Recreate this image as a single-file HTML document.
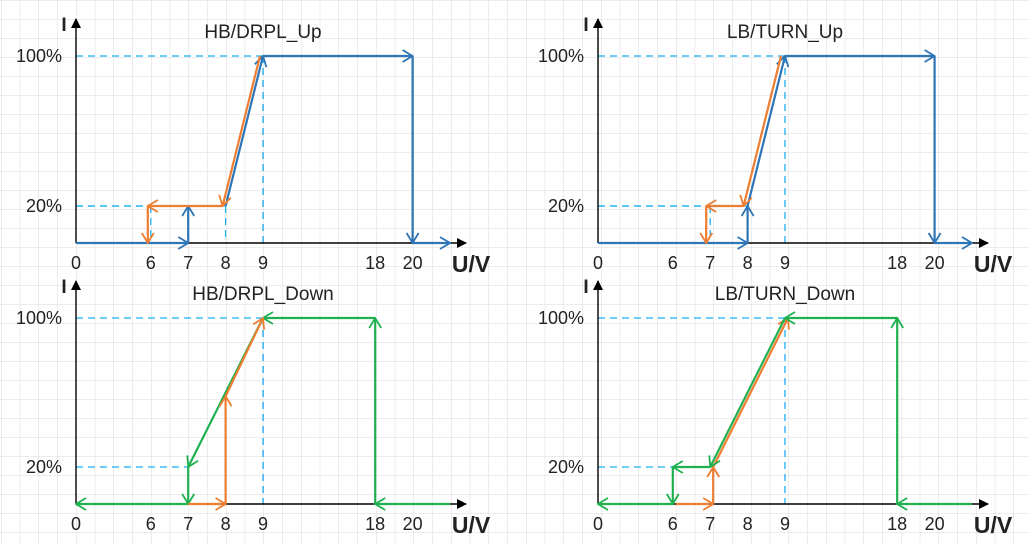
<!DOCTYPE html>
<html><head><meta charset="utf-8">
<style>
html,body{margin:0;padding:0;background:#fff;}
svg{display:block;font-family:"Liberation Sans",sans-serif;}
</style></head>
<body>
<svg id="chart" width="1029" height="545" viewBox="0 0 1029 545" xmlns="http://www.w3.org/2000/svg">
<defs>
<pattern id="grid" x="1.5" y="0.5" width="18.75" height="19" patternUnits="userSpaceOnUse">
<path d="M18.75 0 V19 M0 19 H18.75" fill="none" stroke="#d9d9d9" stroke-width="1"/>
</pattern>
<marker id="ah-blue" viewBox="0 0 14 14" refX="13" refY="7" markerWidth="14" markerHeight="14" markerUnits="userSpaceOnUse" orient="auto"><path d="M3 1 L13 7 L3 13" fill="none" stroke="#2E75B6" stroke-width="1.8"/></marker>
<marker id="ah-orange" viewBox="0 0 14 14" refX="13" refY="7" markerWidth="14" markerHeight="14" markerUnits="userSpaceOnUse" orient="auto"><path d="M3 1 L13 7 L3 13" fill="none" stroke="#ED7D31" stroke-width="1.8"/></marker>
<marker id="ah-green" viewBox="0 0 14 14" refX="13" refY="7" markerWidth="14" markerHeight="14" markerUnits="userSpaceOnUse" orient="auto"><path d="M3 1 L13 7 L3 13" fill="none" stroke="#20B050" stroke-width="1.8"/></marker>
<marker id="ah-black" viewBox="0 0 10 10" refX="9" refY="5" markerWidth="10" markerHeight="10" markerUnits="userSpaceOnUse" orient="auto"><path d="M0 0 L10 5 L0 10 Z" fill="#000"/></marker>
</defs>
<rect width="1029" height="545" fill="url(#grid)"/>
<g id="panels"></g>
</svg>
<script>
// tick categories along the voltage axis (non-linear spacing, slot-based)
const tickLabels = ["0","6","7","8","9","18","20"];
const tickValues = [0, 6, 7, 8, 9, 18, 20];
const tickSlots = [0, 2, 3, 4, 5, 8, 9];
const yTickLabels = ["20%","100%"];
const yTickValues = [20, 100];
const titles = ["HB/DRPL_Up","LB/TURN_Up","HB/DRPL_Down","LB/TURN_Down"];
// end of baseline arrows (beyond 20 V)
const END = 21;
// series: arrays of [fromU, fromI, toU, toI]
const tlBlue = [[0,0,7,0],[7,0,7,20],[8,20,9,100],[9,100,20,100],[20,100,20,0],[20,0,END,0]];
const tlOrange = [[9,100,8,20],[8,20,6,20],[6,20,6,0]];
const trBlue = [[0,0,8,0],[8,0,8,20],[8,20,9,100],[9,100,20,100],[20,100,20,0],[20,0,END,0]];
const trOrange = [[9,100,8,20],[8,20,7,20],[7,20,7,0]];
const blGreen = [[END,0,18,0],[18,0,18,100],[18,100,9,100],[9,100,7,20],[7,20,7,0],[7,0,0,0]];
const blOrange = [[7,0,8,0],[8,0,8,58],[8,58,9,100]];
const brGreen = [[END,0,18,0],[18,0,18,100],[18,100,9,100],[9,100,7,20],[7,20,6,20],[6,20,6,0],[6,0,0,0]];
const brOrange = [[6,0,7,0],[7,0,7,20],[7,20,9,100]];
// dashed guide lines per panel: [u, i]
const tlGuides = [[6,20],[8,20],[9,100]];
const trGuides = [[7,20],[8,20],[9,100]];
const blGuides = [[7,20],[9,100]];
const brGuides = [[6,20],[9,100]];

const NS="http://www.w3.org/2000/svg";
const root=document.getElementById('panels');
const STEP=37.4;
function mk(tag,attrs,parent){const e=document.createElementNS(NS,tag);for(const k in attrs)e.setAttribute(k,attrs[k]);parent.appendChild(e);return e;}
function slotOf(u){
  for(let i=0;i<tickValues.length-1;i++){
    if(u>=tickValues[i]&&u<=tickValues[i+1]){
      const t=(u-tickValues[i])/(tickValues[i+1]-tickValues[i]);
      return tickSlots[i]+t*(tickSlots[i+1]-tickSlots[i]);
    }
  }
  const n=tickValues.length-1;
  return tickSlots[n]+(u-tickValues[n]);
}
const panels=[
 {ox:76,base:243,y20:206,y100:56,title:titles[0],tx:263,series:[[tlBlue,'blue',0,0],[tlOrange,'orange',-3,0]],guides:tlGuides,name:'hb-drpl-up'},
 {ox:598,base:243,y20:206,y100:56,title:titles[1],tx:785,series:[[trBlue,'blue',0,0],[trOrange,'orange',-4,0]],guides:trGuides,name:'lb-turn-up'},
 {ox:76,base:504,y20:467,y100:318,title:titles[2],tx:263,series:[[blGreen,'green',0,0],[blOrange,'orange',0,0]],guides:blGuides,name:'hb-drpl-down'},
 {ox:598,base:504,y20:467,y100:318,title:titles[3],tx:785,series:[[brOrange,'orange',3,0],[brGreen,'green',0,0]],guides:brGuides,name:'lb-turn-down'}
];
const colors={blue:'#2E75B6',orange:'#ED7D31',green:'#20B050'};
panels.forEach((p)=>{
  const g=mk('g',{},root);
  
  
  const X=u=>p.ox+slotOf(u)*STEP;
  const Y=i=> i<=20 ? p.base-(i/20)*(p.base-p.y20) : p.y20-((i-20)/80)*(p.y20-p.y100);
  p.guides.forEach(([u,i])=>{
    const h=mk('path',{d:`M${p.ox} ${Y(i)} H${X(u)} M${X(u)} ${Y(i)} V${p.base}`,stroke:'#1AB0F0','stroke-width':1.3,'stroke-dasharray':'7 5',fill:'none'},g);
    
    
  });
  const ax=mk('line',{x1:p.ox,y1:p.base,x2:p.ox+390,y2:p.base,stroke:'#000','stroke-width':1.4,'marker-end':'url(#ah-black)'},g);
  
  
  const ay=mk('line',{x1:p.ox,y1:p.base,x2:p.ox,y2:p.y100-37,stroke:'#000','stroke-width':1.4,'marker-end':'url(#ah-black)'},g);
  
  
  p.series.forEach(([segs,col,dx,dy])=>{
    segs.forEach(s=>{
      const l=mk('line',{x1:X(s[0])+dx,y1:Y(s[1])+dy,x2:X(s[2])+dx,y2:Y(s[3])+dy,stroke:colors[col],'stroke-width':2.2,'marker-end':`url(#ah-${col})`},g);
      
      
    });
  });
  tickLabels.forEach((lab,k)=>{
    const t=mk('text',{x:X(tickValues[k]),y:p.base+26,'font-size':18,'text-anchor':'middle',fill:'#222'},g);
    t.textContent=lab;
    
    
  });
  yTickLabels.forEach((lab,k)=>{
    const t=mk('text',{x:p.ox-14,y:Y(yTickValues[k])+6,'font-size':18,'text-anchor':'end',fill:'#222'},g);
    t.textContent=lab;
    
    
  });
  const ti=mk('text',{x:p.tx,y:p.y100-18,'font-size':19,'text-anchor':'middle',fill:'#222'},g);
  ti.textContent=p.title;
  
  
  const yl=mk('text',{x:p.ox-12,y:p.y100-25,'font-size':19,'font-weight':'bold','text-anchor':'middle',fill:'#222'},g);
  yl.textContent='I';
  
  
  const xl=mk('text',{x:p.ox+395,y:p.base+29,'font-size':23,'font-weight':'bold','text-anchor':'middle',fill:'#222'},g);
  xl.textContent='U/V';
  
  
});
</script>
</body></html>
